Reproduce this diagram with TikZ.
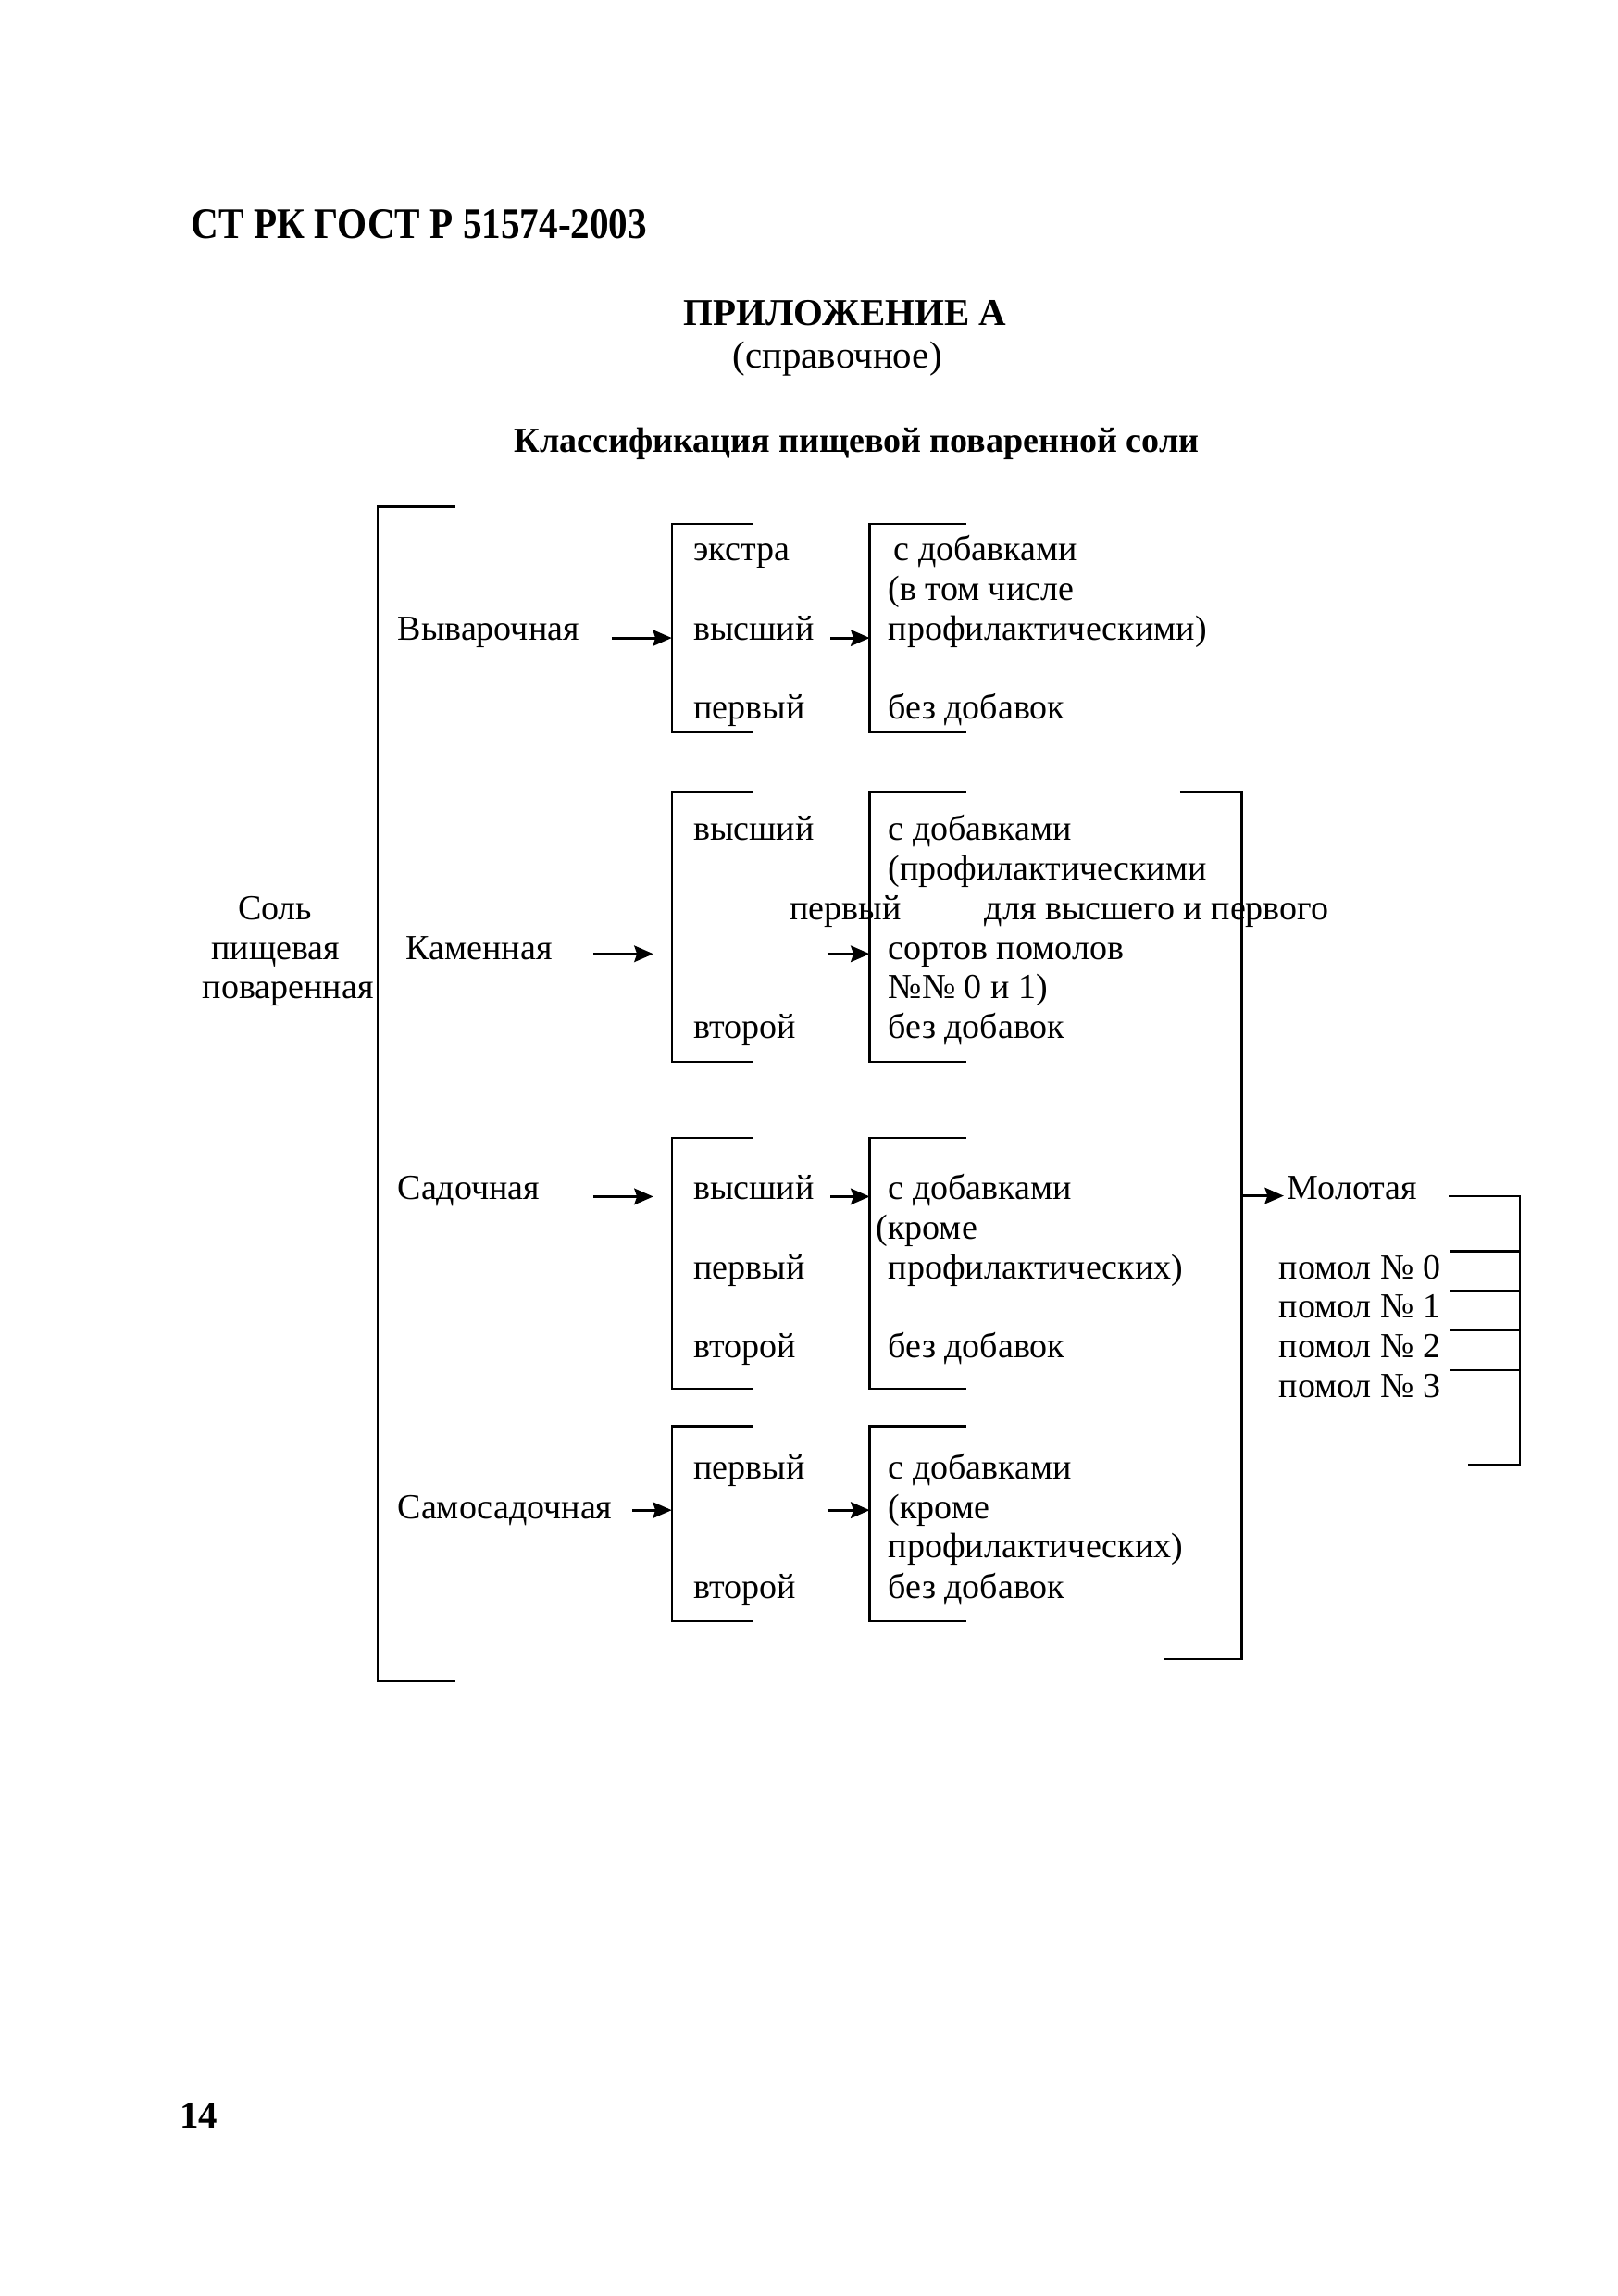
\documentclass[tikz,border=0pt]{standalone}
\usepackage{fontspec}
\setmainfont{Liberation Serif}
\newfontfamily\gostfont[FakeStretch=0.88]{Liberation Serif}
\usetikzlibrary{arrows.meta}
\begin{document}
\begin{tikzpicture}[line width=0.75pt,
  txt/.style={anchor=base west,inner sep=0pt,font=\fontsize{13}{15}\selectfont},
  ctr/.style={anchor=base,inner sep=0pt,font=\fontsize{13}{15}\selectfont},
  arr/.style={-{Stealth[length=7pt,width=6pt,inset=1pt]},line width=1pt}]
\useasboundingbox[fill=white] (0,0) rectangle (21,-29.8);

\node[anchor=base west,inner sep=0pt,font=\gostfont\fontsize{16}{18}\selectfont\bfseries] (std) at (2.47,-3.10) {СТ РК ГОСТ Р 51574-2003};
\node[anchor=base,inner sep=0pt,font=\fontsize{14}{16}\selectfont\bfseries] (app) at (10.97,-4.22) {ПРИЛОЖЕНИЕ А};
\node[anchor=base,inner sep=0pt,font=\fontsize{14}{16}\selectfont] (ref) at (10.87,-4.78) {(справочное)};
\node[anchor=base,inner sep=0pt,font=\fontsize{13}{15}\selectfont\bfseries] (ttl) at (11.12,-5.87) {Классификация пищевой поваренной соли};

% main bracket
\draw (5.91,-6.58) -- (4.90,-6.58) -- (4.90,-21.82) -- (5.91,-21.82);
\node[ctr] (sol1) at (3.57,-11.94) {Соль};
\node[ctr] (sol2) at (3.58,-12.45) {пищевая};
\node[ctr] (sol3) at (3.74,-12.96) {поваренная};

\node[txt] (vyv) at (5.15,-8.31) {Выварочная};
\node[txt] (kam) at (5.26,-12.45) {Каменная};
\node[txt] (sad) at (5.15,-15.57) {Садочная};
\node[txt] (sam) at (5.15,-19.71) {Самосадочная};

% grade brackets
\draw (9.77,-6.80) -- (8.72,-6.80) -- (8.72,-9.50) -- (9.77,-9.50);
\draw (9.77,-10.28) -- (8.72,-10.28) -- (8.72,-13.78) -- (9.77,-13.78);
\draw (9.77,-14.77) -- (8.72,-14.77) -- (8.72,-18.02) -- (9.77,-18.02);
\draw (9.77,-18.51) -- (8.72,-18.51) -- (8.72,-21.04) -- (9.77,-21.04);

% additive brackets
\draw (12.54,-6.80) -- (11.29,-6.80) -- (11.29,-9.50) -- (12.54,-9.50);
\draw (12.54,-10.28) -- (11.29,-10.28) -- (11.29,-13.78) -- (12.54,-13.78);
\draw (12.54,-14.77) -- (11.29,-14.77) -- (11.29,-18.02) -- (12.54,-18.02);
\draw (12.54,-18.51) -- (11.29,-18.51) -- (11.29,-21.04) -- (12.54,-21.04);

\node[txt] (g1a) at (8.99,-7.28) {экстра};
\node[txt] (g1b) at (8.99,-8.31) {высший};
\node[txt] (g1c) at (8.99,-9.33) {первый};
\node[txt] (d1a) at (11.59,-7.28) {с добавками};
\node[txt] (d1b) at (11.52,-7.79) {(в том числе};
\node[txt] (d1c) at (11.52,-8.31) {профилактическими)};
\node[txt] (d1d) at (11.52,-9.33) {без добавок};

\node[txt] (g2a) at (8.99,-10.91) {высший};
\node[txt] (g2b) at (10.24,-11.94) {первый};
\node[txt] (g2c) at (8.99,-13.48) {второй};
\node[txt] (d2a) at (11.52,-10.91) {с добавками};
\node[txt] (d2b) at (11.52,-11.42) {(профилактическими};
\node[txt] (d2c) at (12.77,-11.94) {для высшего и первого};
\node[txt] (d2d) at (11.52,-12.45) {сортов помолов};
\node[txt] (d2e) at (11.52,-12.96) {№№ 0 и 1)};
\node[txt] (d2f) at (11.52,-13.48) {без добавок};

\node[txt] (g3a) at (8.99,-15.57) {высший};
\node[txt] (g3b) at (8.99,-16.60) {первый};
\node[txt] (g3c) at (8.99,-17.62) {второй};
\node[txt] (d3a) at (11.52,-15.57) {с добавками};
\node[txt] (d3b) at (11.36,-16.08) {(кроме};
\node[txt] (d3c) at (11.52,-16.60) {профилактических)};
\node[txt] (d3d) at (11.52,-17.62) {без добавок};

\node[txt] (g4a) at (8.99,-19.20) {первый};
\node[txt] (g4b) at (8.99,-20.74) {второй};
\node[txt] (d4a) at (11.52,-19.20) {с добавками};
\node[txt] (d4b) at (11.52,-19.71) {(кроме};
\node[txt] (d4c) at (11.52,-20.22) {профилактических)};
\node[txt] (d4d) at (11.52,-20.74) {без добавок};

% arrows
\coordinate (s1) at (7.94,-8.28);  \coordinate (e1) at (8.72,-8.28);
\coordinate (t1) at (10.78,-8.28); \coordinate (f1) at (11.29,-8.28);
\coordinate (s2) at (7.70,-12.38); \coordinate (e2) at (8.48,-12.38);
\coordinate (t2) at (10.74,-12.38); \coordinate (f2) at (11.29,-12.38);
\coordinate (s3) at (7.70,-15.53); \coordinate (e3) at (8.48,-15.53);
\coordinate (t3) at (10.78,-15.53); \coordinate (f3) at (11.29,-15.53);
\coordinate (s4) at (8.21,-19.60); \coordinate (e4) at (8.72,-19.60);
\coordinate (t4) at (10.74,-19.60); \coordinate (f4) at (11.29,-19.60);
\draw[arr] (s1) -- (e1);
\draw[arr] (t1) -- (f1);
\draw[arr] (s2) -- (e2);
\draw[arr] (t2) -- (f2);
\draw[arr] (s3) -- (e3);
\draw[arr] (t3) -- (f3);
\draw[arr] (s4) -- (e4);
\draw[arr] (t4) -- (f4);

% right bracket
\draw (15.32,-10.28) -- (16.12,-10.28) -- (16.12,-21.53) -- (15.11,-21.53);
\coordinate (m0) at (16.12,-15.52);
\node[txt] (mol) at (16.70,-15.57) {Молотая};
\draw[arr] (m0) -- ([xshift=-1pt]mol.west |- m0);

\node[txt] (p0) at (16.59,-16.60) {помол № 0};
\node[txt] (p1) at (16.59,-17.11) {помол № 1};
\node[txt] (p2) at (16.59,-17.62) {помол № 2};
\node[txt] (p3) at (16.59,-18.14) {помол № 3};

\draw (18.81,-15.52) -- (19.73,-15.52) -- (19.73,-19.01) -- (19.06,-19.01);
\draw (18.83,-16.24) -- (19.73,-16.24);
\draw (18.83,-16.75) -- (19.73,-16.75);
\draw (18.83,-17.26) -- (19.73,-17.26);
\draw (18.83,-17.78) -- (19.73,-17.78);

\node[anchor=base west,inner sep=0pt,font=\fontsize{14}{16}\selectfont\bfseries] (pg) at (2.32,-27.62) {14};
\end{tikzpicture}
\end{document}
